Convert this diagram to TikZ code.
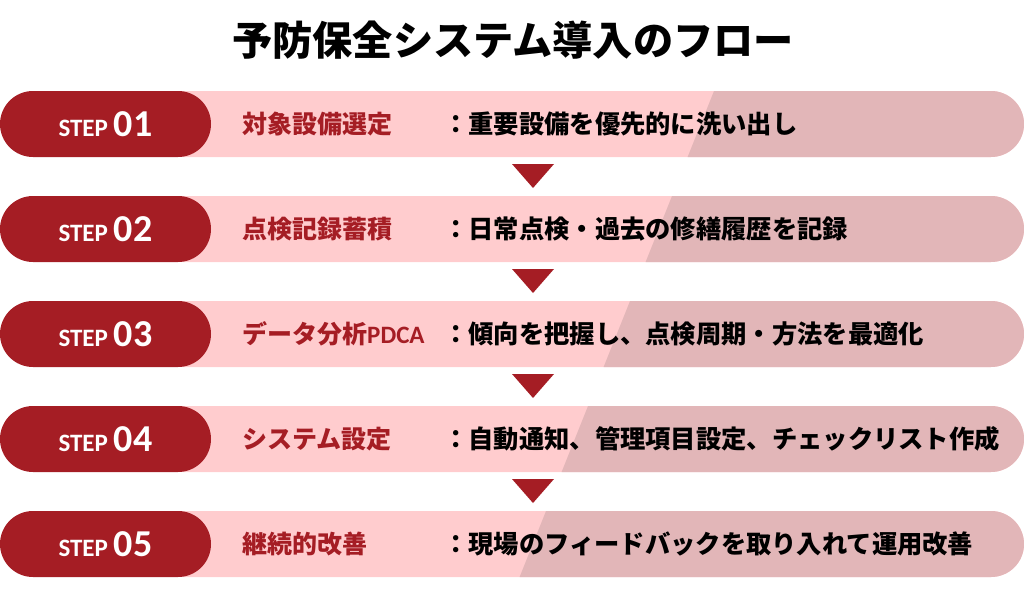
\documentclass[tikz,border=0pt]{standalone}
\usepackage{fontspec}
\setmainfont{Carlito}
\newfontfamily\jpfont{Noto Sans CJK JP}
\usetikzlibrary{shapes.misc}

\definecolor{stepred}{RGB}{165,29,36}
\definecolor{barpink}{RGB}{255,204,206}
\definecolor{shadepink}{RGB}{226,182,184}

\tikzset{
    steppill/.style={rounded rectangle, fill=stepred, text=white,
        minimum width=211pt, minimum height=66pt, inner sep=0pt, font=\bfseries},
    steplabel/.style={anchor=west, inner sep=0pt, text=stepred,
        font=\jpfont\bfseries\fontsize{25}{30}\selectfont},
    stepdesc/.style={anchor=west, inner sep=0pt,
        font=\jpfont\bfseries\fontsize{25.3}{30}\selectfont},
}

\begin{document}
\begin{tikzpicture}[
            x=1pt, y=-1pt
        ]
            \useasboundingbox (0,0) rectangle (1024,592);

            \node[font=\jpfont\bfseries\fontsize{40.2}{48}\selectfont] (title) at (513,40) {予防保全システム導入のフロー};

            \foreach \i/\lab/\desc in {
                1/対象設備選定/重要設備を優先的に洗い出し,
                2/点検記録蓄積/日常点検・過去の修繕履歴を記録,
                3/{データ分析{\rmfamily PDCA}}/傾向を把握し、点検周期・方法を最適化,
                4/システム設定/自動通知、管理項目設定、チェックリスト作成,
                5/継続的改善/現場のフィードバックを取り入れて運用改善} {
                \pgfmathsetmacro\ytop{91+105*(\i-1)}
                \pgfmathsetmacro\ybot{\ytop+66}
                \pgfmathsetmacro\yc{\ytop+33}
                \pgfmathsetmacro\xa{714-42*(\i-1)}
                \pgfmathsetmacro\xb{\xa-26.4}
                \fill [barpink,rounded corners=33pt] (150,\ytop) rectangle (1024,\ybot);
                \begin{scope}
                    \clip [rounded corners=33pt] (150,\ytop) rectangle (1024,\ybot);
                    \fill [shadepink] (\xa,\ytop) -- (1030,\ytop) -- (1030,\ybot) -- (\xb,\ybot) -- cycle;
                \end{scope}
                \node[steppill] (step\i) at (105.5,\yc) {\fontsize{25}{25}\selectfont STEP\hspace{6pt}\fontsize{38}{38}\selectfont 0\i};
                \node[steplabel] (label\i) at (242,\yc) {\lab};
                \node[stepdesc] (desc\i) at (443,\yc) {：\desc};
            }

            \foreach \i in {1,...,4} {
                \pgfmathsetmacro\ya{164+105*(\i-1)}
                \fill [stepred] (512,\ya) -- (554,\ya) -- (533,\ya+24) -- cycle;
            }
        \end{tikzpicture}
\end{document}
